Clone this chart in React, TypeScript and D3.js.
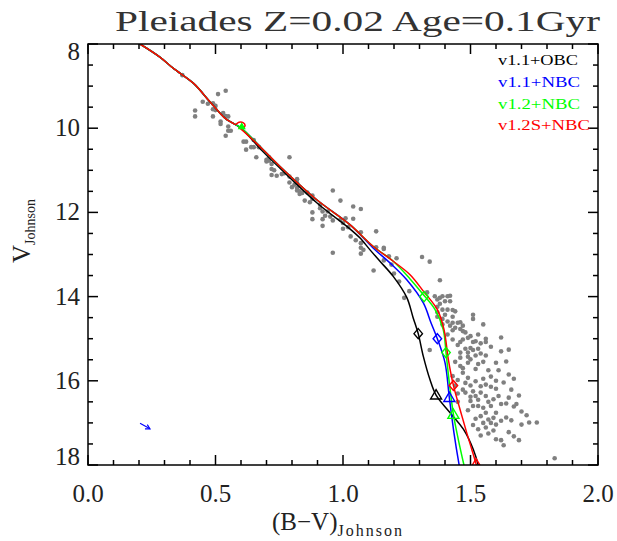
import React from "react";
import * as d3 from "d3";

// ---------- data ----------
const TITLE = "Pleiades Z=0.02 Age=0.1Gyr";
const X_TICKS = [0, 0.5, 1.0, 1.5, 2.0];
const X_TICK_LABELS = ["0.0", "0.5", "1.0", "1.5", "2.0"];
const Y_TICKS = [8, 10, 12, 14, 16, 18];
const Y_TICK_LABELS = ["8", "10", "12", "14", "16", "18"];

const SERIES_NAMES = ["v1.1+OBC", "v1.1+NBC", "v1.2+NBC", "v1.2S+NBC"];
const SERIES_COLORS = ["#000000", "#0000ff", "#00ff00", "#ff0000"];

// Pleiades members: [B-V, V]
const pleiadesStars: [number, number][] = [
  [0.37, 8.74], [0.51, 9.19], [0.54, 9.11], [0.45, 9.37], [0.47, 9.42], [0.49, 9.41], [0.5, 9.47],
  [0.42, 9.58], [0.42, 9.72], [0.49, 9.55], [0.5, 9.57], [0.49, 9.72], [0.53, 9.64], [0.54, 9.71],
  [0.52, 9.84], [0.52, 9.9], [0.55, 9.72], [0.55, 9.96], [0.56, 10.06], [0.55, 10.06], [0.54, 10.18],
  [0.61, 10.32], [0.62, 10.32], [0.64, 10.45], [0.62, 10.51], [0.65, 10.28], [0.65, 10.45], [0.67, 10.45],
  [0.66, 10.69], [0.7, 10.75], [0.71, 10.69], [0.79, 10.69], [0.7, 10.79], [0.71, 10.77], [0.72, 10.85],
  [0.72, 10.97], [0.73, 11.0], [0.72, 11.11], [0.74, 11.13], [0.76, 11.09], [0.77, 11.07], [0.79, 11.15],
  [0.82, 11.21], [0.79, 11.29], [0.81, 11.34], [0.82, 11.3], [0.8, 11.4], [0.82, 11.42], [0.82, 11.48],
  [0.83, 11.5], [0.84, 11.54], [0.83, 11.56], [0.86, 11.53], [0.88, 11.6], [0.88, 11.68], [0.85, 11.72],
  [0.87, 11.76], [0.96, 11.48], [0.99, 11.72], [0.91, 11.82], [0.91, 11.9], [0.92, 11.98], [0.94, 11.98],
  [0.88, 12.0], [0.93, 12.08], [0.95, 12.1], [0.88, 12.16], [0.92, 12.16], [0.96, 12.19], [0.99, 12.17],
  [1.01, 12.14], [0.92, 12.32], [1.0, 12.25], [1.02, 12.35], [1.0, 12.39], [1.04, 11.86], [1.07, 11.92],
  [1.04, 12.15], [1.07, 12.47], [1.03, 12.57], [1.05, 12.66], [1.07, 12.73], [1.07, 12.84], [0.96, 12.96],
  [1.13, 12.45], [1.16, 12.87], [1.12, 13.38], [1.21, 13.09], [1.18, 13.04], [1.16, 13.14], [1.19, 13.24],
  [1.2, 13.45], [1.22, 13.64], [1.13, 12.83], [1.08, 12.89], [1.07, 12.98], [1.16, 12.84], [1.31, 13.06],
  [1.34, 13.17], [1.38, 13.61], [1.26, 13.87], [1.24, 14.03], [1.33, 13.9], [1.36, 13.99], [1.37, 14.07],
  [1.38, 14.03], [1.39, 13.99], [1.41, 13.99], [1.42, 13.98], [1.38, 14.17], [1.4, 14.11], [1.37, 14.24],
  [1.39, 14.31], [1.41, 14.31], [1.42, 14.11], [1.4, 14.43], [1.43, 14.48], [1.37, 14.37], [1.37, 14.48],
  [1.39, 14.53], [1.41, 14.59], [1.44, 14.35], [1.45, 14.62], [1.39, 14.66], [1.43, 14.32], [1.46, 14.61],
  [1.43, 14.62], [1.42, 14.69], [1.44, 14.74], [1.46, 14.77], [1.47, 14.82], [1.47, 14.69], [1.51, 14.43],
  [1.51, 14.53], [1.55, 14.66], [1.49, 14.98], [1.47, 15.02], [1.46, 15.08], [1.5, 14.94], [1.51, 15.08],
  [1.52, 15.06], [1.54, 15.11], [1.56, 15.08], [1.58, 15.19], [1.5, 15.22], [1.48, 15.24], [1.51, 15.27],
  [1.53, 15.24], [1.46, 15.33], [1.49, 15.33], [1.52, 15.4], [1.54, 15.35], [1.34, 15.27], [1.49, 15.43],
  [1.56, 15.4], [1.6, 15.57], [1.5, 15.49], [1.49, 15.57], [1.46, 15.45], [1.45, 15.98], [1.43, 15.89],
  [1.44, 16.11], [1.47, 16.21], [1.5, 16.11], [1.52, 16.01], [1.54, 16.13], [1.56, 16.09], [1.58, 16.14],
  [1.6, 16.19], [1.61, 16.36], [1.59, 16.44], [1.56, 16.36], [1.54, 16.28], [1.52, 16.36], [1.51, 16.25],
  [1.5, 16.48], [1.53, 16.6], [1.55, 16.64], [1.58, 16.6], [1.6, 16.76], [1.59, 16.88], [1.56, 16.76],
  [1.54, 16.84], [1.55, 17.0], [1.58, 17.0], [1.6, 17.04], [1.56, 17.11], [1.51, 16.6], [1.48, 16.28],
  [1.49, 15.93], [1.47, 15.81], [1.64, 15.54], [1.65, 15.85], [1.63, 16.04], [1.66, 16.21], [1.69, 16.35],
  [1.64, 16.54], [1.67, 16.61], [1.7, 16.73], [1.64, 16.87], [1.66, 16.94], [1.7, 17.04], [1.73, 16.99],
  [1.76, 16.99], [1.65, 17.22], [1.67, 17.32], [1.62, 17.41], [1.63, 17.53], [1.69, 17.41], [1.72, 16.82],
  [1.83, 17.84], [1.62, 14.97], [1.62, 15.3], [1.65, 15.26], [1.57, 17.25], [1.53, 17.15], [1.6, 17.39],
  [1.41, 14.9], [1.43, 15.02], [1.45, 15.15], [1.47, 15.7], [1.53, 15.6], [1.57, 15.75], [1.45, 16.5],
  [1.46, 15.65], [1.52, 15.72], [1.55, 15.55], [1.58, 15.9], [1.55, 15.95], [1.48, 16.05], [1.45, 16.3],
  [1.5, 16.38], [1.57, 16.5], [1.62, 16.55], [1.53, 16.45], [1.49, 16.7], [1.52, 16.9], [1.57, 16.92],
  [1.62, 16.95], [1.51, 17.05], [1.59, 17.18], [1.54, 17.3], [1.65, 16.4], [1.6, 16.0], [1.43, 14.8],
  [1.48, 14.85], [1.53, 14.9], [1.56, 15.0], [1.44, 15.55], [1.61, 15.75], [1.67, 15.95], [1.68, 16.55],
];

// isochrones [B-V, V]
const trunk: [number, number][] = [
  [0.204, 8.0], [0.282, 8.31], [0.335, 8.58], [0.413, 8.93], [0.478, 9.37], [0.537, 9.76], [0.565, 9.87],
];
const upperMS: [number, number][] = [
  [0.687, 10.51], [0.753, 10.91], [0.897, 11.7], [1.027, 12.29],
];
const isoV11OBC: [number, number][] = [
  ...trunk, [0.6, 10.0],
  [0.682, 10.53], [0.753, 10.95], [0.897, 11.77], [1.027, 12.39], [1.067, 12.61], [1.106, 12.89],
  [1.145, 13.16], [1.197, 13.52], [1.25, 14.02], [1.275, 14.5], [1.295, 14.88], [1.315, 15.42],
  [1.341, 15.97], [1.365, 16.34], [1.42, 16.76], [1.472, 17.15], [1.511, 17.63], [1.531, 18.02], [1.535, 18.15],
];
const isoV11NBC: [number, number][] = [
  ...trunk, [0.6, 9.99], ...upperMS,
  [1.119, 12.85], [1.184, 13.2], [1.25, 13.6], [1.315, 14.15], [1.345, 14.62], [1.37, 15.0],
  [1.4, 15.57], [1.417, 16.4], [1.435, 17.23], [1.456, 18.02], [1.46, 18.15],
];
const isoV12NBC: [number, number][] = [
  ...trunk, [0.6, 9.99], ...upperMS,
  [1.119, 12.81], [1.197, 13.16], [1.263, 13.58], [1.309, 13.91], [1.361, 14.31], [1.393, 14.78],
  [1.404, 15.33], [1.417, 16.05], [1.433, 16.8], [1.452, 17.39], [1.475, 18.02], [1.48, 18.15],
];
const isoV12SNBC: [number, number][] = [
  ...trunk, [0.578, 9.91], [0.592, 9.86], [0.608, 9.87], [0.616, 9.94], [0.606, 10.0], [0.592, 9.99],
  [0.6, 10.02], ...upperMS,
  [1.119, 12.81], [1.197, 13.16], [1.263, 13.48], [1.315, 13.87], [1.37, 14.31], [1.396, 14.78],
  [1.413, 15.49], [1.433, 16.11], [1.459, 16.68], [1.485, 17.23], [1.505, 17.63], [1.522, 17.98], [1.528, 18.15],
];
const ISOCHRONES = [isoV11OBC, isoV11NBC, isoV12NBC, isoV12SNBC];

// markers on isochrones: [seriesIndex, B-V, V]
const diamondMarks: [number, number, number][] = [
  [0, 1.295, 14.88], [1, 1.37, 15.0], [2, 1.404, 15.33], [2, 1.318, 14.0], [3, 1.433, 16.11],
];
const triangleMarks: [number, number, number][] = [
  [0, 1.365, 16.34], [1, 1.417, 16.4], [2, 1.433, 16.8], [3, 1.522, 17.98],
];
const loopMarks: [number, number, number][] = [[2, 0.603, 9.96]];

// reddening vector
const reddeningVector: [number, number][] = [[0.204, 17.01], [0.243, 17.14]];

// ---------- layout ----------
const W = 617;
const H = 541;
const L = 88, R = 598, T = 44, B = 465;
const FONT = "'Liberation Serif', 'DejaVu Serif', serif";

export default function App() {
  const x = d3.scaleLinear().domain([0, 2]).range([L, R]);
  const y = d3.scaleLinear().domain([8, 18]).range([T, B]);
  const line = d3
    .line<[number, number]>()
    .x((d) => x(d[0]))
    .y((d) => y(d[1]))
    .curve(d3.curveCatmullRom.alpha(0.5));
  const straight = d3
    .line<[number, number]>()
    .x((d) => x(d[0]))
    .y((d) => y(d[1]));

  const xMinor = d3.range(0, 2.0001, 0.1).filter((v) => Math.abs(v * 2 - Math.round(v * 2)) > 1e-6);
  const yMinor = d3.range(8, 18.0001, 0.5).filter((v) => Math.abs(v / 2 - Math.round(v / 2)) > 1e-6);

  const diamond = (cx: number, cy: number, s = 5) =>
    `M${cx},${cy - s}L${cx + s * 0.85},${cy}L${cx},${cy + s}L${cx - s * 0.85},${cy}Z`;
  const triangle = (cx: number, cy: number, s = 5.5) =>
    `M${cx},${cy - s}L${cx + s},${cy + s * 0.7}L${cx - s},${cy + s * 0.7}Z`;

  const arrowEnd = reddeningVector[1];
  const arrowStart = reddeningVector[0];
  const ax = x(arrowEnd[0]), ay = y(arrowEnd[1]);
  const ang = Math.atan2(ay - y(arrowStart[1]), ax - x(arrowStart[0]));
  const ah = 5;
  const head = `M${ax - ah * Math.cos(ang - 0.5)},${ay - ah * Math.sin(ang - 0.5)}L${ax},${ay}L${
    ax - ah * Math.cos(ang + 0.5)
  },${ay - ah * Math.sin(ang + 0.5)}`;

  const legendBaselines = [65, 87, 108.5, 130];
  const legendLengths = [80, 82, 82, 92];

  return (
    <svg
      width={W}
      height={H}
      style={{ position: "absolute", left: 0, top: 0, background: "#fff" }}
      fontFamily={FONT}
    >
      <defs>
        <clipPath id="plotclip">
          <rect x={L} y={T} width={R - L} height={B - T} />
        </clipPath>
      </defs>
      <rect x={0} y={0} width={W} height={H} fill="#fff" />

      {/* title */}
      <text x={115} y={31} fontSize={30} textLength={485} lengthAdjust="spacingAndGlyphs" fill="#333">
        {TITLE}
      </text>

      {/* stars */}
      <g clipPath="url(#plotclip)">
        {pleiadesStars.map((d, i) => (
          <circle key={i} cx={x(d[0])} cy={y(d[1])} r={2.3} fill="#808080" />
        ))}
      </g>

      {/* isochrones */}
      <g clipPath="url(#plotclip)" fill="none" strokeWidth={1.5}>
        {ISOCHRONES.map((iso, i) => (
          <path key={i} d={line(iso) || ""} stroke={SERIES_COLORS[i]} />
        ))}
        {diamondMarks.map(([s, bv, v], i) => (
          <path key={"d" + i} d={diamond(x(bv), y(v))} stroke={SERIES_COLORS[s]} strokeWidth={1.4} />
        ))}
        {triangleMarks.map(([s, bv, v], i) => (
          <path key={"t" + i} d={triangle(x(bv), y(v))} stroke={SERIES_COLORS[s]} strokeWidth={1.4} />
        ))}
        {loopMarks.map(([s, bv, v], i) => (
          <path key={"l" + i} d={triangle(x(bv), y(v), 3)} stroke={SERIES_COLORS[s]} fill={SERIES_COLORS[s]} strokeWidth={1.2} />
        ))}
        <path d={straight(reddeningVector) || ""} stroke="#0000ff" strokeWidth={1.2} />
        <path d={head} stroke="#0000ff" strokeWidth={1.2} />
      </g>

      {/* frame + ticks */}
      <g stroke="#000" strokeWidth={1.5} fill="none">
        <rect x={L} y={T} width={R - L} height={B - T} />
        {X_TICKS.map((v) => (
          <g key={"xt" + v}>
            <line x1={x(v)} x2={x(v)} y1={B} y2={B - 10} />
            <line x1={x(v)} x2={x(v)} y1={T} y2={T + 10} />
          </g>
        ))}
        {xMinor.map((v) => (
          <g key={"xm" + v}>
            <line x1={x(v)} x2={x(v)} y1={B} y2={B - 5} />
            <line x1={x(v)} x2={x(v)} y1={T} y2={T + 5} />
          </g>
        ))}
        {Y_TICKS.map((v) => (
          <g key={"yt" + v}>
            <line x1={L} x2={L + 10} y1={y(v)} y2={y(v)} />
            <line x1={R} x2={R - 10} y1={y(v)} y2={y(v)} />
          </g>
        ))}
        {yMinor.map((v) => (
          <g key={"ym" + v}>
            <line x1={L} x2={L + 5} y1={y(v)} y2={y(v)} />
            <line x1={R} x2={R - 5} y1={y(v)} y2={y(v)} />
          </g>
        ))}
      </g>

      {/* tick labels */}
      <g fontSize={25} fill="#222">
        {X_TICKS.map((v, i) => (
          <text key={"xl" + v} x={x(v)} y={502} textAnchor="middle">
            {X_TICK_LABELS[i]}
          </text>
        ))}
        {Y_TICKS.map((v, i) => (
          <text
            key={"yl" + v}
            x={80}
            y={Math.min(Math.max(y(v), T + 8), B - 8) + 8}
            textAnchor="end"
          >
            {Y_TICK_LABELS[i]}
          </text>
        ))}
      </g>

      {/* axis titles */}
      <text x={272} y={530} fontSize={25} fill="#222">
        (B−V)
        <tspan dy={6} fontSize={16} letterSpacing={2}>
          Johnson
        </tspan>
      </text>
      <text transform="translate(30,263) rotate(-90)" fontSize={25} fill="#222">
        V
        <tspan dy={5} fontSize={14}>
          Johnson
        </tspan>
      </text>

      {/* legend */}
      <g fontSize={15}>
        {SERIES_NAMES.map((n, i) => (
          <text
            key={n}
            x={498}
            y={legendBaselines[i]}
            fill={SERIES_COLORS[i]}
            textLength={legendLengths[i]}
            lengthAdjust="spacingAndGlyphs"
          >
            {n}
          </text>
        ))}
      </g>
    </svg>
  );
}
